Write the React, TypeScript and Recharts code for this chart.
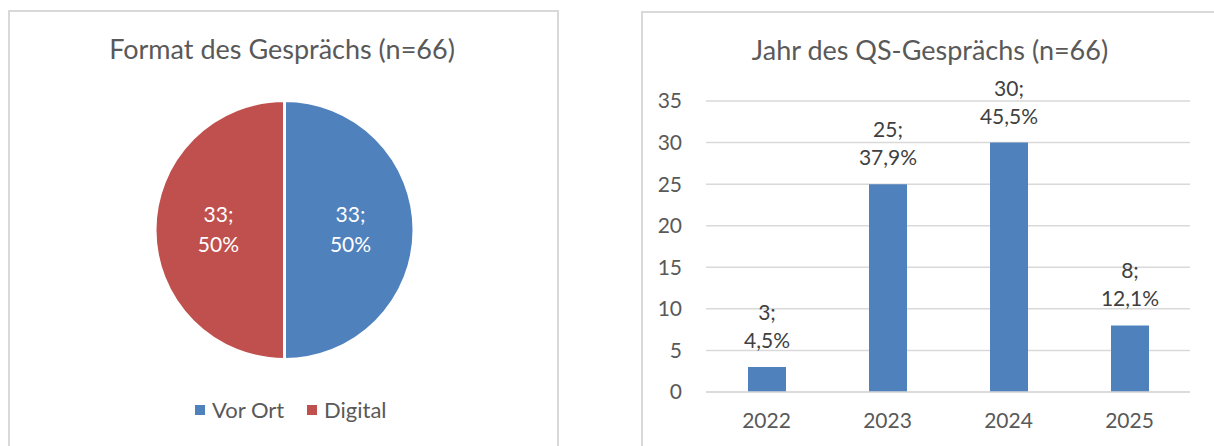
import React from "react";
import {
  PieChart,
  Pie,
  Cell,
  Legend,
  BarChart,
  Bar,
  XAxis,
  YAxis,
  CartesianGrid,
  LabelList,
} from "recharts";

// ---- Data ----
const formatNames = ["Vor Ort", "Digital"];
const formatCounts = [33, 33];
const formatPercents = ["50%", "50%"];
const formatColors = ["#4f81bd", "#c0504d"];

const years = ["2022", "2023", "2024", "2025"];
const yearCounts = [3, 25, 30, 8];
const yearPercents = ["4,5%", "37,9%", "45,5%", "12,1%"];
const yTicks = [0, 5, 10, 15, 20, 25, 30, 35];

const pieTitle = "Format des Gesprächs (n=66)";
const barTitle = "Jahr des QS-Gesprächs (n=66)";

const pieData = formatNames.map((name, i) => ({
  name,
  value: formatCounts[i],
  pct: formatPercents[i],
}));
const barData = years.map((year, i) => ({
  year,
  count: yearCounts[i],
  pct: yearPercents[i],
}));

const FONT = "Lato, 'Open Sans', sans-serif";
const TEXT = "#595959";
const LABEL = "#404040";
const GRID = "#d9d9d9";
const RAD = Math.PI / 180;

const renderPieLabel = (props: any) => {
  const { cx, cy, midAngle, outerRadius, index } = props;
  const r = outerRadius * 0.51;
  const x = cx + r * Math.cos(-midAngle * RAD);
  const y = cy + r * Math.sin(-midAngle * RAD);
  const d = pieData[index];
  return (
    <text
      x={x}
      y={y}
      fill="#ffffff"
      textAnchor="middle"
      fontFamily={FONT}
      fontSize={21}
    >
      <tspan x={x} y={y - 8}>{`${d.value};`}</tspan>
      <tspan x={x} y={y + 22}>{d.pct}</tspan>
    </text>
  );
};

const renderPieLegend = () => (
  <svg width={260} height={30} style={{ display: "block" }}>
    {pieData.map((d, i) => {
      const off = i === 0 ? 0 : 112;
      return (
        <g key={d.name}>
          <rect x={off} y={9} width={10} height={10} fill={formatColors[i]} />
          <text
            x={off + 17}
            y={22}
            fill={TEXT}
            fontFamily={FONT}
            fontSize={22}
          >
            {d.name}
          </text>
        </g>
      );
    })}
  </svg>
);

const renderBarLabel = (props: any) => {
  const { x, y, width, index } = props;
  const cxp = x + width / 2;
  const d = barData[index];
  return (
    <text
      x={cxp}
      y={y}
      fill={LABEL}
      textAnchor="middle"
      fontFamily={FONT}
      fontSize={21}
    >
      <tspan x={cxp} y={y - 47}>{`${d.count};`}</tspan>
      <tspan x={cxp} y={y - 19}>{d.pct}</tspan>
    </text>
  );
};

export default function App() {
  return (
    <div
      style={{
        position: "absolute",
        left: 0,
        top: 0,
        width: 1214,
        height: 446,
        overflow: "hidden",
        background: "#ffffff",
        fontFamily: FONT,
      }}
    >
      {/* panel frames */}
      <div
        style={{
          position: "absolute",
          left: 8,
          top: 10,
          width: 551,
          height: 460,
          border: `2px solid ${GRID}`,
          boxSizing: "border-box",
        }}
      />
      <div
        style={{
          position: "absolute",
          left: 641,
          top: 11,
          width: 620,
          height: 460,
          border: `2px solid ${GRID}`,
          boxSizing: "border-box",
        }}
      />

      {/* titles */}
      <svg
        width={1214}
        height={446}
        style={{ position: "absolute", left: 0, top: 0, pointerEvents: "none" }}
      >
        <text
          x={282}
          y={59}
          textAnchor="middle"
          fill={TEXT}
          fontFamily={FONT}
          fontSize={27}
        >
          {pieTitle}
        </text>
        <text
          x={930}
          y={60}
          textAnchor="middle"
          fill={TEXT}
          fontFamily={FONT}
          fontSize={27}
        >
          {barTitle}
        </text>
      </svg>

      {/* pie chart */}
      <div style={{ position: "absolute", left: 0, top: 0 }}>
        <PieChart
          width={600}
          height={446}
          margin={{ top: 0, right: 0, bottom: 0, left: 0 }}
        >
          <Pie
            data={pieData}
            dataKey="value"
            nameKey="name"
            cx={284.5}
            cy={230}
            outerRadius={129.5}
            startAngle={90}
            endAngle={-270}
            stroke="#ffffff"
            strokeWidth={3}
            labelLine={false}
            label={renderPieLabel}
            isAnimationActive={false}
          >
            {pieData.map((d, i) => (
              <Cell key={d.name} fill={formatColors[i]} />
            ))}
          </Pie>
          <Legend
            content={renderPieLegend}
            wrapperStyle={{ left: 195, top: 396, width: 260 }}
          />
        </PieChart>
      </div>

      {/* bar chart */}
      <div style={{ position: "absolute", left: 620, top: 0 }}>
        <BarChart
          width={594}
          height={446}
          data={barData}
          margin={{ top: 101, right: 24, bottom: 24, left: 0 }}
        >
          <CartesianGrid
            vertical={false}
            stroke={GRID}
            strokeWidth={1.5}
          />
          <XAxis
            dataKey="year"
            height={30}
            axisLine={{ stroke: GRID, strokeWidth: 1.5 }}
            tickLine={false}
            tickSize={0}
            tickMargin={21}
            tick={{ fill: TEXT, fontSize: 21, fontFamily: FONT }}
          />
          <YAxis
            width={86}
            domain={[0, 35]}
            ticks={yTicks}
            axisLine={false}
            tickLine={false}
            tickSize={0}
            tickMargin={24}
            tick={{ fill: TEXT, fontSize: 21, fontFamily: FONT }}
          />
          <Bar
            dataKey="count"
            fill="#4f81bd"
            barSize={38}
            isAnimationActive={false}
          >
            <LabelList dataKey="count" content={renderBarLabel} />
          </Bar>
        </BarChart>
      </div>
    </div>
  );
}
